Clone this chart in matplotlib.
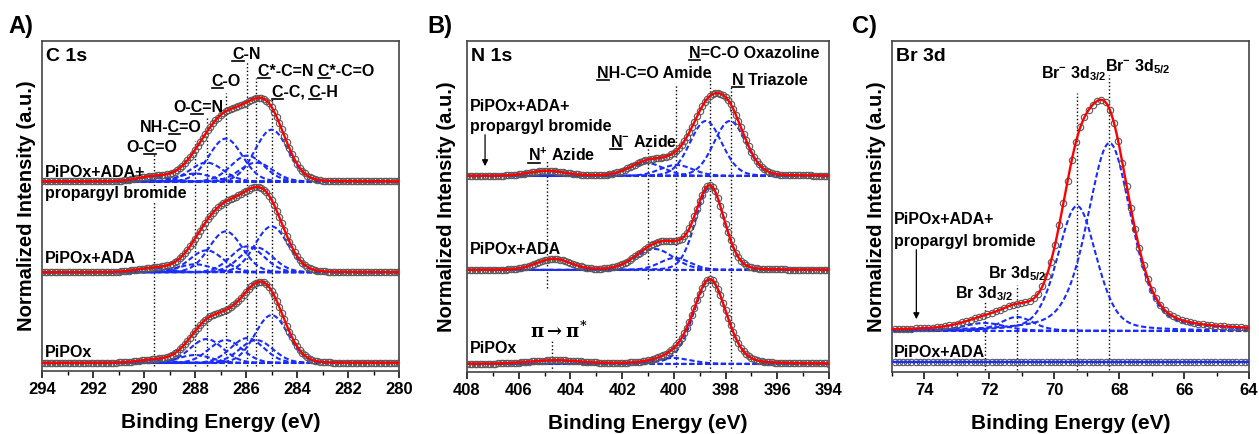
import numpy as np
import matplotlib.pyplot as plt
from matplotlib.lines import Line2D

plt.rcParams['font.family'] = ['Liberation Sans', 'DejaVu Sans']
plt.rcParams['font.weight'] = 'bold'
plt.rcParams['mathtext.fontset'] = 'custom'
plt.rcParams['mathtext.rm'] = 'Liberation Sans:bold'
plt.rcParams['mathtext.bf'] = 'Liberation Sans:bold'
plt.rcParams['mathtext.it'] = 'Liberation Sans:bold'
plt.rcParams['mathtext.default'] = 'rm'

# ---- C 1s fit components (centre eV, height) ----
c1s_centers = [289.6, 288.0, 287.55, 286.8, 285.95, 285.6, 285.0]
c1s_top = [5, 8, 19, 43, 26, 19, 52]      # PiPOx+ADA+propargyl bromide
c1s_mid = [4, 8, 22, 41, 26, 25, 46]      # PiPOx+ADA
c1s_bot = [3, 8, 24, 23, 25, 23, 48]      # PiPOx
c1s_fwhm = 1.53
c1s_offsets = [190, 99, 8]

# ---- N 1s fit components ----
n1s_top_c = [404.9, 401.05, 399.9, 398.76, 397.83]
n1s_top_h = [5, 13, 11, 55, 55]
n1s_top_w = [1.65, 1.55, 1.5, 1.45, 1.45]
n1s_mid_c = [404.65, 400.75, 399.95, 398.6]
n1s_mid_h = [11, 21, 12, 83]
n1s_mid_w = [1.55, 1.75, 1.4, 1.3]
n1s_bot_c = [404.6, 400.0, 398.6]
n1s_bot_h = [3.5, 6, 84]
n1s_bot_w = [2.3, 1.6, 1.5]
n1s_offsets = [196, 102, 8]

# ---- Br 3d fit components ----
br_c = [72.15, 71.15, 69.3, 68.3]
br_h = [8, 14, 125, 188]
br_w = [1.5, 1.2, 1.4, 1.6]
br_eta = [0.3, 0.3, 0.3, 0.4]
br_offsets = [41, 10]

RED = '#ff0000'
BLUE = '#1a2cff'


def pv(x, c, h, fwhm, eta=0.1):
    u = ((x - c) / fwhm) ** 2
    return h * ((1 - eta) * np.exp(-4 * np.log(2) * u) + eta / (1 + 4 * u))


def spectrum(ax, x, xs, comps, off):
    env = np.zeros_like(x)
    env_s = np.zeros_like(xs)
    for c, h, w, e in comps:
        y = pv(x, c, h, w, e)
        env += y
        env_s += pv(xs, c, h, w, e)
        ax.plot(x, y + off, color=BLUE, ls='--', dashes=(2.5, 1.3), lw=1.5, zorder=2)
    ax.plot(x, np.full_like(x, off), color=BLUE, ls='--', dashes=(2.5, 1.3), lw=1.5, zorder=2)
    ax.plot(xs, env_s + off, 'o', mfc='none', mec='#5a5a5a', ms=4.6, mew=0.8, zorder=3)
    ax.plot(x, env + off, color=RED, lw=1.7, zorder=4)


fig = plt.figure(figsize=(12.59, 4.34), dpi=100)
axA = fig.add_axes([0.0334, 0.1452, 0.2836, 0.7604])
axB = fig.add_axes([0.3709, 0.1429, 0.2875, 0.7627])
axC = fig.add_axes([0.7085, 0.1429, 0.2836, 0.7627])


def label(ax, x, y, s, ul=(), size=11.5, **kw):
    t = ax.text(x, y, s, fontsize=size, fontweight='bold', ha='left', va='baseline', **kw)
    if ul:
        r = fig.canvas.get_renderer()
        prop = t.get_fontproperties()
        x0, y0 = ax.transData.transform((x, y))
        for k in ul:
            wf = r.get_text_width_height_descent(s[:k + 1], prop, ismath=False)[0]
            wc = r.get_text_width_height_descent(s[k], prop, ismath=False)[0]
            pts = fig.transFigure.inverted().transform([(x0 + wf - wc, y0 - 2.2), (x0 + wf, y0 - 2.2)])
            fig.add_artist(Line2D(pts[:, 0], pts[:, 1], color='black', lw=1.2))
    return t


def vline(ax, x, y0, y1):
    ax.plot([x, x], [y0, y1], color='black', ls=':', lw=1.0, zorder=1)


def style(ax, xlim, major, title, ylab_x):
    ax.set_xlim(*xlim)
    ax.set_ylim(0, 331)
    ax.set_yticks([])
    lo, hi = min(xlim), max(xlim)
    ax.set_xticks(np.arange(lo, hi + 0.01, major))
    ax.set_xticks(np.arange(lo, hi + 0.01, 1), minor=True)
    ax.tick_params(axis='x', which='major', direction='out', length=5, width=1.1,
                   labelsize=12, pad=3, top=False)
    ax.tick_params(axis='x', which='minor', direction='out', length=3, width=1.0, top=False)
    for lab in ax.get_xticklabels():
        lab.set_fontweight('bold')
    for sp in ax.spines.values():
        sp.set_color('#444444')
        sp.set_linewidth(1.2)
    ax.set_xlabel('Binding Energy (eV)', fontsize=15, fontweight='bold')
    ax.xaxis.set_label_coords(0.5, -0.128)
    ax.set_ylabel('Normalized Intensity (a.u.)', fontsize=14.5, fontweight='bold')
    ax.yaxis.set_label_coords(ylab_x, 0.5)
    ax.text(0.012, 0.978, title, transform=ax.transAxes, fontsize=14, fontweight='bold',
            ha='left', va='top')


# ---------------- A) C 1s ----------------
style(axA, (294, 280), 2, 'C 1s', -0.017)
xa = np.linspace(280, 294, 700)
xa_s = np.arange(280, 294.01, 0.1)
for heights, off in zip([c1s_top, c1s_mid, c1s_bot], c1s_offsets):
    comps = [(c, h, c1s_fwhm, 0.05) for c, h in zip(c1s_centers, heights)]
    spectrum(axA, xa, xa_s, comps, off)

line_tops_A = [218, 231, 254, 279, 311, 294, 274]
for c, top in zip(c1s_centers, line_tops_A):
    vline(axA, c, 5, top)

label(axA, 290.68, 220, 'O-C=O', ul=[2])
label(axA, 290.16, 240, 'NH-C=O', ul=[3])
label(axA, 288.85, 260, 'O-C=N', ul=[2])
label(axA, 287.35, 286, 'C-O', ul=[0])
label(axA, 286.54, 313, 'C-N', ul=[0])
label(axA, 285.52, 296, 'C*-C=N C*-C=O', ul=[0, 7])
label(axA, 284.99, 275, 'C-C, C-H', ul=[0, 5])
label(axA, 293.88, 195, 'PiPOx+ADA+')
label(axA, 293.88, 173, 'propargyl bromide',
      bbox=dict(facecolor='white', edgecolor='none', pad=0.5))
label(axA, 293.88, 108, 'PiPOx+ADA')
label(axA, 293.88, 14, 'PiPOx')

# ---------------- B) N 1s ----------------
style(axB, (408, 394), 2, 'N 1s', -0.030)
xb = np.linspace(394, 408, 700)
xb_s = np.arange(394, 408.01, 0.1)
spectrum(axB, xb, xb_s, [(c, h, w, 0.1) for c, h, w in zip(n1s_top_c, n1s_top_h, n1s_top_w)],
         n1s_offsets[0])
spectrum(axB, xb, xb_s, [(c, h, w, 0.1) for c, h, w in zip(n1s_mid_c, n1s_mid_h, n1s_mid_w)],
         n1s_offsets[1])
spectrum(axB, xb, xb_s, [(c, h, w, 0.2) for c, h, w in zip(n1s_bot_c, n1s_bot_h, n1s_bot_w)],
         n1s_offsets[2])

vline(axB, 404.9, 84, 212)
vline(axB, 401.0, 93, 225)
vline(axB, 399.9, 5, 288)
vline(axB, 398.6, 0, 297)
vline(axB, 397.8, 0, 287)
vline(axB, 404.7, 0, 32)

label(axB, 399.42, 314, 'N=C-O Oxazoline', ul=[0])
label(axB, 402.97, 294, 'NH-C=O Amide', ul=[0])
label(axB, 397.75, 287, 'N Triazole', ul=[0])
label(axB, 407.88, 261, 'PiPOx+ADA+')
label(axB, 407.88, 241, 'propargyl bromide')
label(axB, 402.47, 225, 'N$^{-}$ Azide', ul=[0])
label(axB, 405.64, 211, 'N$^{+}$ Azide', ul=[0])
label(axB, 407.88, 118, 'PiPOx+ADA')
label(axB, 407.88, 19, 'PiPOx')
axB.text(404.44, 34, r'$\pi \rightarrow \pi^{*}$', fontsize=13, fontweight='normal',
         math_fontfamily='dejavuserif', ha='center', va='baseline')
axB.annotate('', xy=(407.3, 203), xytext=(407.3, 240),
             arrowprops=dict(arrowstyle='-|>', color='black', lw=0.9, mutation_scale=9))

# ---------------- C) Br 3d ----------------
style(axC, (75, 64), 2, 'Br 3d', -0.017)
axC.set_xticks(np.arange(64, 75, 2))
axC.set_xticks(np.arange(64, 75.01, 1), minor=True)
for lab in axC.get_xticklabels():
    lab.set_fontweight('bold')
xc = np.linspace(64, 75, 700)
xc_s = np.arange(64, 75.01, 0.13)
spectrum(axC, xc, xc_s, list(zip(br_c, br_h, br_w, br_eta)), br_offsets[0])
axC.plot(xc_s, np.full_like(xc_s, br_offsets[1]), 'o', mfc='none', mec='#5a5a5a', ms=4.6,
         mew=0.8, zorder=3)
axC.plot(xc, np.full_like(xc, br_offsets[1]), color=BLUE, lw=1.7, zorder=4)

vline(axC, 69.3, 2, 279)
vline(axC, 68.3, 2, 297)
vline(axC, 72.15, 2, 72)
vline(axC, 71.15, 2, 87)

label(axC, 70.40, 294, 'Br$^{-}$ 3d$_{3/2}$')
label(axC, 68.44, 301, 'Br$^{-}$ 3d$_{5/2}$')
label(axC, 74.93, 148, 'PiPOx+ADA+')
label(axC, 74.93, 126, 'propargyl bromide')
label(axC, 73.07, 74, 'Br 3d$_{3/2}$')
label(axC, 72.05, 94, 'Br 3d$_{5/2}$')
label(axC, 74.93, 15, 'PiPOx+ADA')
axC.annotate('', xy=(74.25, 50), xytext=(74.25, 125),
             arrowprops=dict(arrowstyle='-|>', color='black', lw=0.9, mutation_scale=9))

for s, xp in [('A)', 8), ('B)', 427), ('C)', 852)]:
    fig.text(xp / 1259, 1 - 15 / 434, s, fontsize=17, fontweight='bold', ha='left', va='top')

fig.savefig('out.png', dpi=100)
